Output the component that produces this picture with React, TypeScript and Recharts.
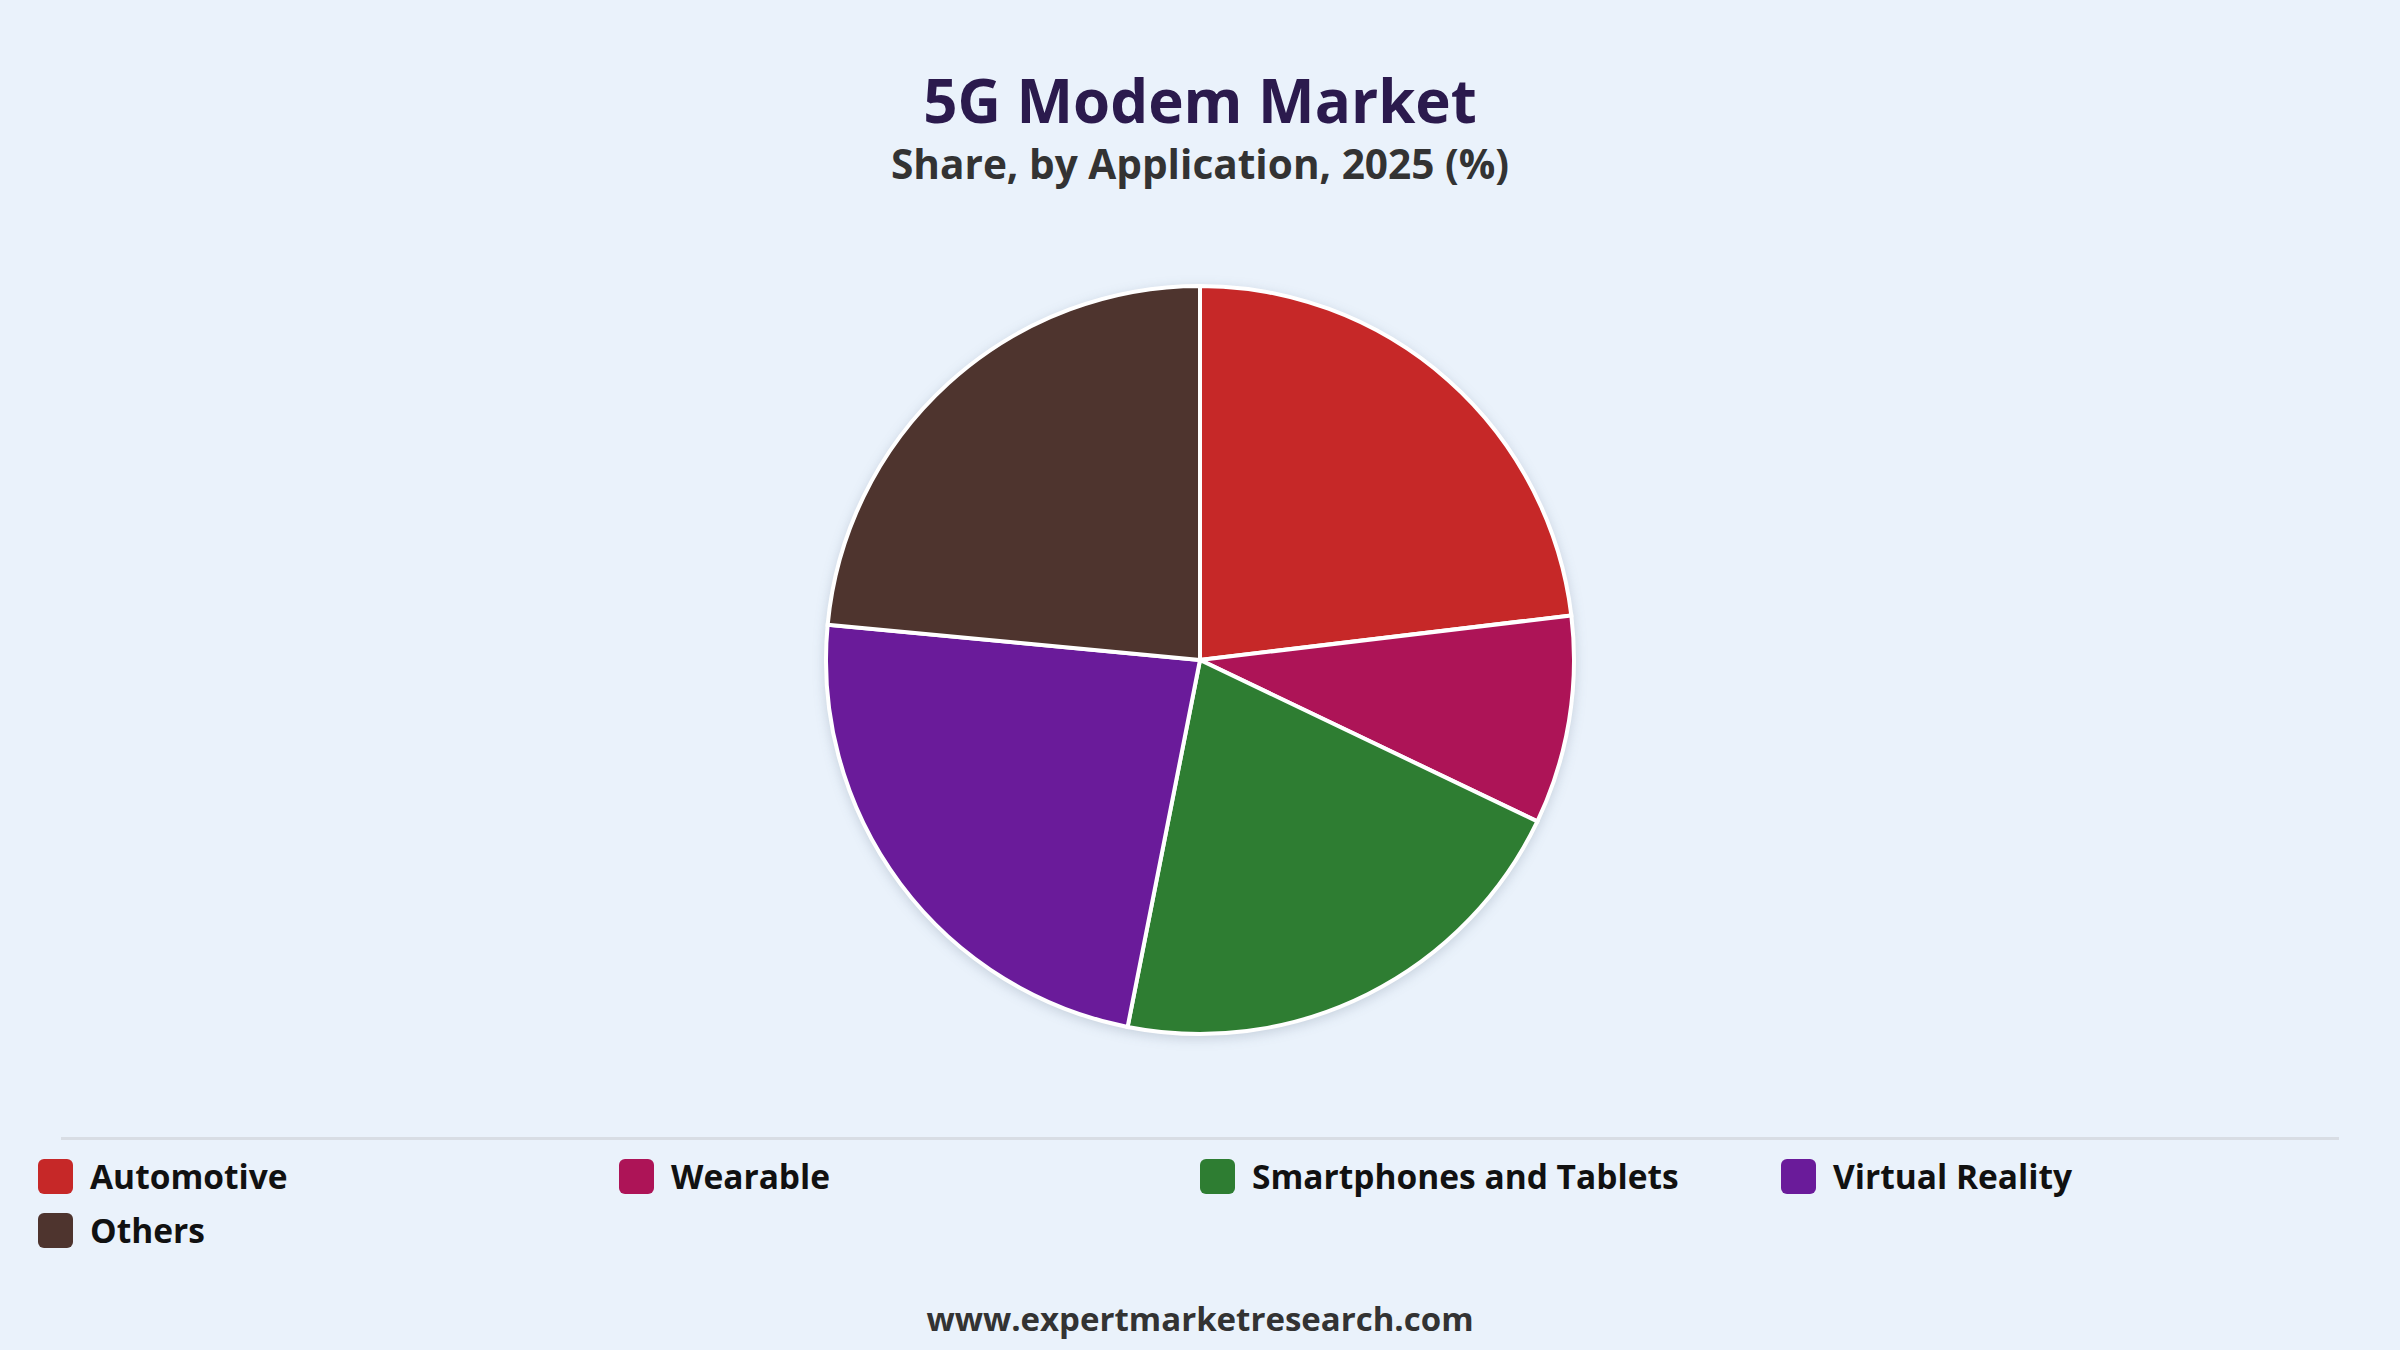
import { Cell, Pie, PieChart } from 'recharts';

const categories = ['Automotive', 'Wearable', 'Smartphones and Tablets', 'Virtual Reality', 'Others'];
const shares = [23.1, 9.0, 21.0, 23.4, 23.5];
const colors = ['#c62828', '#ad1457', '#2e7d32', '#6a1b9a', '#4e342e'];

const title = '5G Modem Market';
const subtitle = 'Share, by Application, 2025 (%)';
const footer = 'www.expertmarketresearch.com';

const FONT = '"Open Sans", "Noto Sans", sans-serif';

export default function App() {
  const data = categories.map((name, i) => ({ name, value: shares[i] }));

  return (
    <div
      style={{
        position: 'fixed',
        top: 0,
        left: 0,
        width: 2400,
        height: 1350,
        background: '#eaf2fb',
        fontFamily: FONT,
        overflow: 'hidden',
      }}
    >
      <div
        style={{
          position: 'absolute',
          top: 58,
          width: '100%',
          textAlign: 'center',
          fontSize: 60,
          fontWeight: 700,
          color: '#2b1a4d',
          lineHeight: '84px',
        }}
      >
        {title}
      </div>
      <div
        style={{
          position: 'absolute',
          top: 137,
          width: '100%',
          textAlign: 'center',
          fontSize: 40.6,
          fontWeight: 700,
          color: '#333333',
          lineHeight: '54px',
        }}
      >
        {subtitle}
      </div>

      {/* pie: centre at (1200, 658) in page pixels */}
      <div
        style={{
          position: 'absolute',
          left: 795,
          top: 255,
          width: 800,
          height: 800,
          filter: 'drop-shadow(0 3px 6px rgba(40, 60, 90, 0.18))',
        }}
      >
        <PieChart width={800} height={800}>
          <Pie
            data={data}
            dataKey="value"
            nameKey="name"
            cx={400}
            cy={400}
            outerRadius={374}
            startAngle={90}
            endAngle={-270}
            stroke="#ffffff"
            strokeWidth={4}
            isAnimationActive={false}
          >
            {data.map((d, i) => (
              <Cell key={d.name} fill={colors[i]} />
            ))}
          </Pie>
        </PieChart>
      </div>

      <div
        style={{
          position: 'absolute',
          left: 61,
          top: 1137,
          width: 2278,
          height: 3,
          background: '#d8dde4',
        }}
      />

      <div
        style={{
          position: 'absolute',
          left: 38,
          top: 1149,
          width: 2330,
          display: 'flex',
          flexWrap: 'wrap',
        }}
      >
        {categories.map((name, i) => (
          <div
            key={name}
            style={{
              width: 581,
              height: 54,
              display: 'flex',
              alignItems: 'center',
            }}
          >
            <div
              style={{
                width: 35,
                height: 35,
                borderRadius: 6,
                background: colors[i],
                marginRight: 17,
                flexShrink: 0,
              }}
            />
            <span style={{ fontSize: 33.5, fontWeight: 700, color: '#111111' }}>{name}</span>
          </div>
        ))}
      </div>

      <div
        style={{
          position: 'absolute',
          top: 1295,
          width: '100%',
          textAlign: 'center',
          fontSize: 33,
          fontWeight: 700,
          color: '#333333',
          lineHeight: '48px',
        }}
      >
        {footer}
      </div>
    </div>
  );
}
